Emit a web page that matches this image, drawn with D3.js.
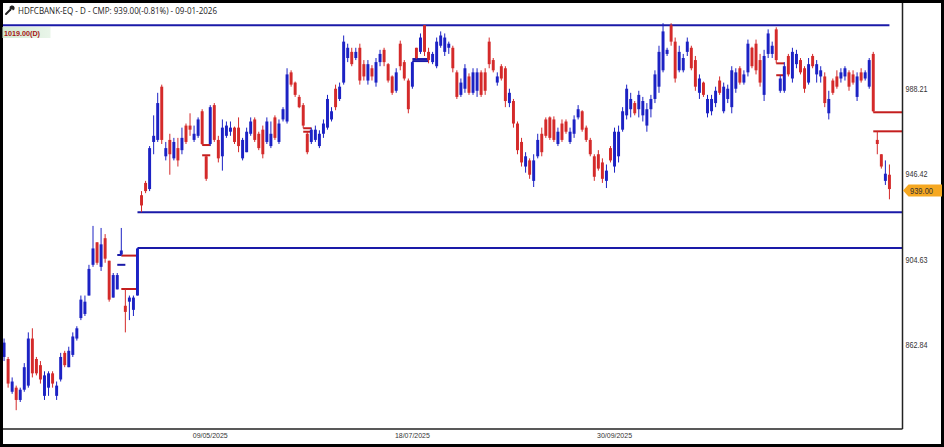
<!DOCTYPE html>
<html><head><meta charset="utf-8">
<script src="https://cdn.jsdelivr.net/npm/d3@7"></script>
<style>html,body{margin:0;padding:0;background:#fff;overflow:hidden}</style>
</head><body><svg id="c" width="944" height="447"></svg>
<script>
const title = "HDFCBANK-EQ - D - CMP: 939.00(-0.81%) - 09-01-2026";
const levelValue = 1019;
const levelLabel = "1019.00(D)";
const lastPrice = 939.00;
const yTickValues = [988.21, 946.42, 904.63, 862.84];
const xTickIndex = [51, 101, 151];
const xTickLabels = ["09/05/2025", "18/07/2025", "30/09/2025"];
// [open, high, low, close]
const candles = [
[857,866,855,864],[856,857,842,844],[840,847,839,845],[842,843,831,836],[836,842,835,841],
[841,854,840,852],[843,869,842,866],[866,871,847,849],[856,857,848,849],[853,855,844,846],
[838,850,836,848],[842,850,838,849],[849,850,842,844],[838,845,836,843],[846,859,845,857],
[859,860,852,853],[852,862,852,860],[858,869,857,867],[866,872,865,871],[876,887,875,885],
[878,887,877,884],[887,902,887,900],[902,921,901,910],[913,913,902,903],[901,920,899,912],
[915,917,903,905],[904,904,884,885],[886,898,886,897],[890,898,890,897],[907,920,906.5,909],
[882,890.2,869,879],[884,887,875,886],[880,887,877,886],[887,910.2,887,910],[936,938,927.7,931],
[942,943,937,938],[939,960,938,959],[962,975,956,965],[963,986,962,981],[989,990,961,963],
[955,962,953,959],[963,966,946,956],[954,964,953,962],[959,964,950,953],[958,969,956,964],
[970,971,961,962],[970,976,965,968],[963,970,962,966],[965,974,964,973],[977,978,960.5,961],
[955,955.5,943,944],[961,980,960,979],[980,981,962,963],[963,965,952,954],[955,973,948,969],
[965,972,964,970],[967,972,965,969],[969,969.5,961,962],[969,974,957,960],[954,964,953,963],
[957,969,957,967],[966,974,965,972],[973,974,962,963],[966,967,958,959],[968,970,954,956],
[962,974,961,972],[960,972,959,966],[974,975,963,964],[962,973,961,971],[973,979,972,978],
[972,998,971,995],[996,997,989,990],[991,991.5,984,985],[984,985,978.5,979],[980,981,968.7,970],
[966,967,956,957],[962,969,961,968],[963,970,962,968],[960,967.7,959,966],[966,973,964,971],
[969,985,968,983],[973,979,972,977],[988,990,977.5,979],[983,991,982,989],[991,1014,990,1011],
[1003,1010,1001,1008],[1006,1008,999,1000],[1003,1008,1002,1006],[1008,1010,990,992],[1000,1002,992,994],
[992,1002,990,1000],[998,999.5,992,994],[991,1003,989,1001],[1001,1007,999,1005],[1007,1008,999,1001],
[1000,1000.5,991,992],[994,994.5,985,986],[987,998,986,996],[1010,1011.5,997,999],[1001,1002,992,993],
[992,993,976,978],[989,1001.5,988,1001],[1008,1008,1002.5,1003],[1006,1015,1005,1013],[1019,1019,1004,1006],
[1006,1008,1000.4,1002],[1001,1006,1000,1005],[999,1013,998,1011],[1009,1016,1008,1014],[1006,1015,1004,1013],
[1008,1011,1005,1010],[1008,1009,996,998],[996,997,983,984],[985,993,984,991],[988,1000,986,998],
[994,995.5,985,986],[986,998,985,996],[987,998,984,996],[996,997,984,985],[996,998,985,987],
[1011,1013,998,1000],[1002,1003,996,997],[991,996,989.5,994],[999,1000,992,993],[998,999,979,982],
[981,988,979,986],[982,983,969,971],[971,972,956,958],[962,964,950,952],[950,957,947,955],
[953,954,944,946],[943,956,940,953],[955,966,954,963],[966,969,955,957],[973,974,964,965],
[974,974.5,963,964],[973,974.5,962,963],[961,969,960,967],[971,973,962,963],[972,973,966,967],
[962,969,961,967],[966,975,964,973],[974,980,973,978],[977,977.5,967,968],[969,970,962,963],
[963,964,955,956],[955,956,943,945],[956,958,948,949],[952,954,942,944],[943,951,939.5,948],
[959,960,952,953],[950,969,947,967],[955,970,952,967],[968,979,967,977],[975,990,973,988],
[978,986,974,983],[981,982,975,976],[978,987,974,985],[975,984,972,982],[970,981,967,978],
[978,985,974,983],[983,997,981,995],[989,1009,986,1006],[997,1020,996,1016],[1005,1008,1004,1007],
[1019,1020,1009,1011],[1011,1013,991,993],[997,1009,996,1006],[997,1005,996,1003],[1006,1013,1004,1011],
[1008,1009,997,998],[1002,1004,987,989],[986,995,983,993],[991,991.5,984,985],[976,985,974,983],
[977,985,975,983],[981,989,979,987],[992,994,985,986],[977,991,976,989],[983,990,981,988],
[979,999,976,997],[988,998,986,996],[998,999,990,991],[991,997,990,995],[996,1012,994,1010],
[1008,1008.5,998,999],[1010,1012,995,997],[1002,1005,989,991],[985,1007,982,1004],[1005,1017,1003,1015],
[1005,1011,1003,1009],[1017,1018,1000.4,1002],[987,994.6,986,993],[987,1001,986,999],[1004,1005,994,995],
[993,1008,991,1006],[1000,1007,998,1005],[1002,1003,995,996],[998,999,986,988],[991,1003,990,1000],
[1004,1005,998,999],[995,1002,991,1000],[994,999,991,997],[994,996,979,981],[976,987,973,983],
[992,993,985,986],[994,997,988,989],[993,998,991,996],[994,999,992,998],[996,997,987,989],
[995,997,990,991],[984,996,982,994],[996,998,991,992],[993,997,992,996],[989,1003,988,1002],
[1005,1006,976.5,977],[963,967.2,956,961],[956,956,949,950],[943,953,941,946.5],[946,951,934,939]
];
// gap lines: [fromIndex, toIndex (null = right edge), price, kind]
const gapLines = [
[33,null,910.2,"up"],[33,null,927.7,"up"],
[215,null,976.5,"down"],[215,null,967.2,"down"],
[29,33,906.5,"down"],[29,33,890.2,"down"],
[28,29,906.8,"up"],[28,30,902,"up"],
[49,51,960.5,"down"],[49,51,955.5,"down"],
[74,76,968.7,"down"],[74,76,967,"down"],
[101,105,1001.5,"up"],[101,105,1002.5,"up"],
[191,193,1000.4,"down"],[191,193,994.6,"down"]
];

const W = 944, H = 447;
const plotRight = 902.5, plotBottom = 429;
const svg = d3.select("#c");
const upCol = "#1c22c4", dnCol = "#d42a2a";
const lineBlue = "#1a1aa8", lineRed = "#c41e1e";

const x = d3.scaleBand().domain(d3.range(candles.length)).range([1.5, 892]).padding(0.27);
const cx = i => x(i) + x.bandwidth() / 2;
const y = d3.scaleLinear().domain([862.84, 988.21]).range([345, 88.3]);

// level line 1019
svg.append("line")
  .attr("x1", 2).attr("x2", cx(candles.length - 1))
  .attr("y1", y(levelValue)).attr("y2", y(levelValue))
  .attr("stroke", lineBlue).attr("stroke-width", 2);

// gap lines
svg.append("g").selectAll("line").data(gapLines).join("line")
  .attr("x1", d => cx(d[0]))
  .attr("x2", d => d[1] === null ? plotRight : cx(d[1]))
  .attr("y1", d => y(d[2])).attr("y2", d => y(d[2]))
  .attr("stroke", d => d[3] === "up" ? lineBlue : lineRed)
  .attr("stroke-width", 2);

// candles
const g = svg.append("g");
candles.forEach((c, i) => {
  const [o, h, l, cl] = c;
  const col = cl >= o ? upCol : dnCol;
  const hi = Math.max(h, o, cl), lo = Math.min(l, o, cl);
  g.append("line").attr("x1", cx(i)).attr("x2", cx(i))
    .attr("y1", y(hi)).attr("y2", y(lo))
    .attr("stroke", col).attr("stroke-width", 1);
  const top = y(Math.max(o, cl)), bot = y(Math.min(o, cl));
  g.append("rect").attr("x", x(i)).attr("width", x.bandwidth())
    .attr("y", top).attr("height", Math.max(1, bot - top))
    .attr("fill", col);
});

// frame lines
svg.append("line").attr("x1", plotRight).attr("x2", plotRight).attr("y1", 2).attr("y2", plotBottom)
  .attr("stroke", "#222").attr("stroke-width", 1.5);
svg.append("line").attr("x1", 2).attr("x2", plotRight).attr("y1", plotBottom).attr("y2", plotBottom)
  .attr("stroke", "#222").attr("stroke-width", 1.5);
svg.append("rect").attr("x", 1.5).attr("y", 1.5).attr("width", W - 3).attr("height", H - 3)
  .attr("fill", "none").attr("stroke", "#000").attr("stroke-width", 3);

// right axis
const ya = svg.append("g").attr("transform", `translate(${plotRight + 1},0)`)
  .call(d3.axisRight(y).tickValues(yTickValues).tickSize(0).tickPadding(2).tickFormat(d3.format(".2f")));
ya.select(".domain").remove();
ya.selectAll("text").attr("font-family", "Liberation Sans, Arial, sans-serif").attr("font-size", 9)
  .attr("fill", "#333").attr("textLength", 22).attr("lengthAdjust", "spacingAndGlyphs");

// bottom axis
const xa = svg.append("g").attr("transform", `translate(0,${plotBottom})`)
  .call(d3.axisBottom(x).tickValues(xTickIndex).tickSize(0).tickPadding(3)
    .tickFormat(d => xTickLabels[xTickIndex.indexOf(d)]));
xa.select(".domain").remove();
xa.selectAll("text").attr("font-family", "Liberation Sans, Arial, sans-serif").attr("font-size", 8)
  .attr("fill", "#333").attr("textLength", 35).attr("lengthAdjust", "spacingAndGlyphs");

// header
svg.append("text").attr("x", 18).attr("y", 13.5).text(title)
  .attr("font-family", "Open Sans, sans-serif").attr("font-size", 9.5).attr("fill", "#222")
  .attr("textLength", 199).attr("lengthAdjust", "spacingAndGlyphs");
// wrench icon
svg.append("path").attr("d", "M6,14 L10.5,9.5").attr("stroke", "#222").attr("stroke-width", 2).attr("stroke-linecap", "round");
svg.append("path").attr("d", "M9.5,8.5 A2.6,2.6 0 1 1 13,10.5 L12,9 L10.6,9.6 Z").attr("fill", "#222");

// level label
const grad = svg.append("defs").append("linearGradient").attr("id", "lg").attr("x1", 0).attr("x2", 1);
grad.append("stop").attr("offset", "0%").attr("stop-color", "#d3ead3");
grad.append("stop").attr("offset", "100%").attr("stop-color", "#e9f5e9");
svg.append("rect").attr("x", 2.5).attr("y", 27).attr("width", 48).attr("height", 11).attr("fill", "url(#lg)");
svg.append("text").attr("x", 4).attr("y", 35.5).text(levelLabel)
  .attr("font-family", "Liberation Sans, Arial, sans-serif").attr("font-size", 8).attr("font-weight", "bold")
  .attr("fill", "#a51515").attr("textLength", 36).attr("lengthAdjust", "spacingAndGlyphs");

// last price tag
const ty = y(lastPrice) + 1.5;
svg.append("path")
  .attr("d", `M${plotRight + 0.5},${ty} L${plotRight + 6},${ty - 6} L942,${ty - 6} L942,${ty + 6} L${plotRight + 6},${ty + 6} Z`)
  .attr("fill", "#f6a821");
svg.append("text").attr("x", 921.5).attr("y", ty + 3.2).attr("text-anchor", "middle").text(d3.format(".2f")(lastPrice))
  .attr("font-family", "Liberation Sans, Arial, sans-serif").attr("font-size", 9).attr("fill", "#333")
  .attr("textLength", 23).attr("lengthAdjust", "spacingAndGlyphs");
</script></body></html>
